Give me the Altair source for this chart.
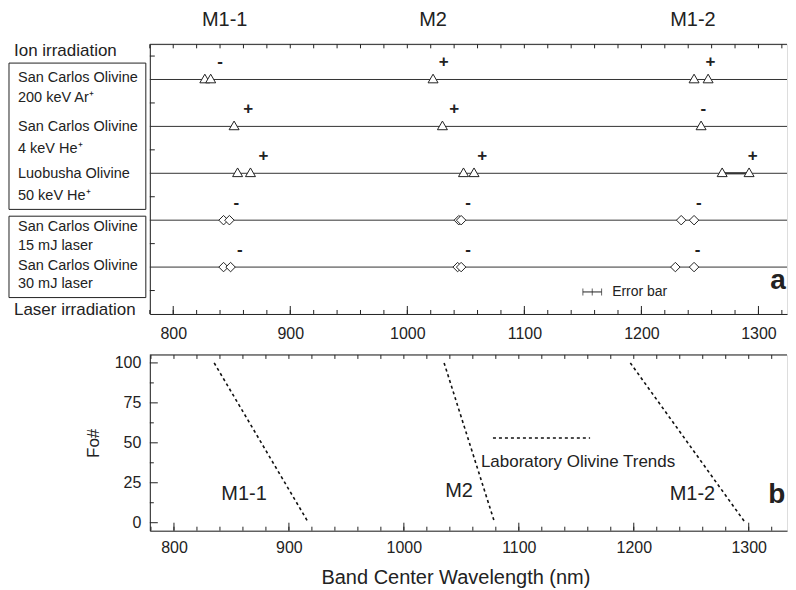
import altair as alt
import pandas as pd

# ---------------- data ----------------
# panel a : rows (1 = bottom row)
ROW_Y = [5, 4, 3, 2, 1]

# ion-irradiated samples (triangles): row, band centre (nm)
TRI_ROW = [5, 5, 5, 5, 5, 4, 4, 4, 3, 3, 3, 3, 3, 3]
TRI_NM = [827, 832, 1022, 1245, 1257, 852, 1030, 1251, 855, 866, 1048, 1057, 1269, 1292]

# laser-irradiated samples (diamonds)
DIA_ROW = [2, 2, 2, 2, 2, 2, 1, 1, 1, 1, 1, 1]
DIA_NM = [843, 848, 1044, 1046, 1234, 1245, 843, 849, 1043, 1046, 1229, 1245]

# shift direction signs
SIGN_ROW = [5, 5, 5, 4, 4, 4, 3, 3, 3, 2, 2, 2, 1, 1, 1]
SIGN_NM = [840, 1031, 1259, 864, 1040, 1253, 877, 1064, 1295, 854, 1052, 1249, 857, 1052, 1248]
SIGN_TXT = ["-", "+", "+", "+", "+", "-", "+", "+", "+", "-", "-", "-", "-", "-", "-"]

# highlighted segment between two Luobusha M1-2 centres
SEG_ROW = [3]
SEG_NM1 = [1269]
SEG_NM2 = [1292]

BAND_TITLES = ["M1-1", "M2", "M1-2"]
BAND_TITLE_NM = [844, 1022, 1244]

BOX_LABELS = ["San Carlos Olivine", "200 keV Ar⁺", "San Carlos Olivine", "4 keV He⁺",
              "Luobusha Olivine", "50 keV He⁺", "San Carlos Olivine", "15 mJ laser",
              "San Carlos Olivine", "30 mJ laser"]

# panel b : laboratory olivine trends (Fo# vs band centre)
TREND_NAMES = ["M1-1", "M2", "M1-2"]
TREND_FO = [100, 0]
TREND_NM_AT_FO100 = [835, 1035, 1197]
TREND_NM_AT_FO0 = [917, 1079, 1297]

X_LABELS = [800, 900, 1000, 1100, 1200, 1300]
FO_LABELS = [0, 25, 50, 75, 100]

# ---------------- layout constants ----------------
W = 638
H1, H2 = 270, 176
X1_DOM = [780, 1324.4]
Y1_DOM = [0, 5.75]
X2_DOM = [779, 1333.3]
Y2_DOM = [-5, 105]
FONT = "Liberation Sans"
INK = "#222222"

# annotation positions (data units of each panel)
BOX_LABEL_Y = [5.03, 4.60, 3.98, 3.52, 2.98, 2.51, 1.85, 1.45, 1.02, 0.63]

ax_x1 = alt.Axis(values=X_LABELS, format="d", ticks=False, grid=False, title=None, labelPadding=12,
                 labelFontSize=16, labelFont=FONT, labelColor=INK, domainColor=INK)
ax_y1 = alt.Axis(labels=False, ticks=False, grid=False, title=None, domainColor=INK)


def X1(field="nm"):
    return alt.X(f"{field}:Q", scale=alt.Scale(domain=X1_DOM, nice=False, zero=False), axis=ax_x1)


def Y1(field="y"):
    return alt.Y(f"{field}:Q", scale=alt.Scale(domain=Y1_DOM, nice=False, zero=False), axis=ax_y1)


ax_x2 = alt.Axis(values=X_LABELS, format="d", ticks=False, grid=False, title="Band Center Wavelength (nm)",
                 labelPadding=9, labelFontSize=16, labelFont=FONT, labelColor=INK, domainColor=INK,
                 titleFont=FONT, titleFontSize=20, titleFontWeight="normal", titleColor=INK,
                 titleX=306, titleY=53, titleBaseline="alphabetic")
ax_y2 = alt.Axis(values=FO_LABELS, format="d", ticks=False, grid=False, title="Fo#", labelPadding=9,
                 labelFontSize=16, labelFont=FONT, labelColor=INK, domainColor=INK,
                 titleFont=FONT, titleFontSize=17, titleFontWeight="normal", titleColor=INK,
                 titlePadding=12)


def X2(field="nm"):
    return alt.X(f"{field}:Q", scale=alt.Scale(domain=X2_DOM, nice=False, zero=False), axis=ax_x2)


def Y2(field="fo"):
    return alt.Y(f"{field}:Q", scale=alt.Scale(domain=Y2_DOM, nice=False, zero=False), axis=ax_y2)


one = pd.DataFrame({"k": [0]})
major = pd.DataFrame({"nm": X_LABELS})
minor1 = pd.DataFrame({"nm": [v for v in range(780, 1325, 20)]})
minor2 = pd.DataFrame({"nm": [v for v in range(780, 1334, 20)]})

# ---------------- panel a ----------------
rows = pd.DataFrame({"y": ROW_Y})
tri = pd.DataFrame({"nm": TRI_NM, "y": TRI_ROW})
dia = pd.DataFrame({"nm": DIA_NM, "y": DIA_ROW})
signs = pd.DataFrame({"nm": SIGN_NM, "y": [r + 0.37 for r in SIGN_ROW], "t": SIGN_TXT})
seg = pd.DataFrame({"nm": SEG_NM1, "nm2": SEG_NM2, "y": SEG_ROW})
heads = pd.DataFrame({"nm": BAND_TITLE_NM, "y": [6.27] * 3, "t": BAND_TITLES})
boxlab = pd.DataFrame({"y": BOX_LABEL_Y, "t": BOX_LABELS})
boxes = pd.DataFrame({"y": [5.35, 2.085], "y2": [2.23, 0.35]})
side = pd.DataFrame({"y": [5.6, 0.085], "t": ["Ion irradiation", "Laser irradiation"]})
ytick1 = pd.DataFrame({"y": [0.5, 1.5, 2.5, 3.5, 4.5, 5.5]})
errbar = pd.DataFrame({"nm": [1150], "nm2": [1166], "y": [0.47]})
errticks = pd.DataFrame({"nm": [1150, 1158, 1166], "y": [0.47] * 3})
errtxt = pd.DataFrame({"nm": [1175], "y": [0.47], "t": ["Error bar"]})
alab = pd.DataFrame({"nm": [1310], "y": [0.53], "t": ["a"]})

row_lines = alt.Chart(rows).mark_rule(color="#333333", strokeWidth=1).encode(
    y=Y1(), x=alt.value(0), x2=alt.value(W))
seg_line = alt.Chart(seg).mark_rule(color="#333333", strokeWidth=2.2).encode(
    x=X1(), x2="nm2:Q", y=Y1())
tri_pts = alt.Chart(tri).mark_point(shape="triangle-up", size=100, filled=True, fill="white",
                                    stroke=INK, strokeWidth=1, opacity=1, yOffset=-1).encode(
    x=X1(), y=Y1())
dia_pts = alt.Chart(dia).mark_point(shape="diamond", size=90, filled=True, fill="white",
                                    stroke=INK, strokeWidth=1, opacity=1).encode(
    x=X1(), y=Y1())
sign_txt = alt.Chart(signs).mark_text(font=FONT, fontSize=17, fontWeight="bold", color=INK,
                                      baseline="middle").encode(
    x=X1(), y=Y1(), text="t:N")
head_txt = alt.Chart(heads).mark_text(font=FONT, fontSize=20, color=INK, baseline="middle").encode(
    x=X1(), y=Y1(), text="t:N")
box_rects = alt.Chart(boxes).mark_rect(fillOpacity=0, stroke=INK, strokeWidth=1).encode(
    x=alt.value(-141), x2=alt.value(-4), y=Y1(), y2="y2:Q")
box_txt = alt.Chart(boxlab).mark_text(font=FONT, fontSize=14.5, color=INK, align="left",
                                      baseline="middle").encode(
    x=alt.value(-132), y=Y1(), text="t:N")
side_txt = alt.Chart(side).mark_text(font=FONT, fontSize=17, color=INK, align="left",
                                     baseline="middle").encode(
    x=alt.value(-136), y=Y1(), text="t:N")
top_frame = alt.Chart(one).mark_rule(color=INK, strokeWidth=1).encode(
    x=alt.value(0), x2=alt.value(W), y=alt.value(0))
bt_major1 = alt.Chart(major).mark_rule(color=INK).encode(
    x=X1(), y=alt.value(H1), y2=alt.value(H1 - 8))
bt_minor1 = alt.Chart(minor1).mark_rule(color=INK).encode(
    x=X1(), y=alt.value(H1), y2=alt.value(H1 - 4))
tp_minor1 = alt.Chart(minor1).mark_rule(color=INK).encode(
    x=X1(), y=alt.value(0), y2=alt.value(4))
lt_ticks1 = alt.Chart(ytick1).mark_rule(color=INK).encode(
    y=Y1(), x=alt.value(0), x2=alt.value(5))
err_line = alt.Chart(errbar).mark_rule(color=INK).encode(x=X1(), x2="nm2:Q", y=Y1())
err_tk = alt.Chart(errticks).mark_tick(orient="vertical", size=7, thickness=1, color=INK).encode(
    x=X1(), y=Y1())
err_label = alt.Chart(errtxt).mark_text(font=FONT, fontSize=14, color=INK, align="left",
                                        baseline="middle").encode(x=X1(), y=Y1(), text="t:N")
a_label = alt.Chart(alab).mark_text(font=FONT, fontSize=28, fontWeight="bold", color=INK,
                                    align="left", baseline="alphabetic").encode(
    x=X1(), y=Y1(), text="t:N")

panel_a = alt.layer(
    row_lines, seg_line, top_frame, bt_major1, bt_minor1, tp_minor1, lt_ticks1,
    box_rects, box_txt, side_txt, head_txt, sign_txt, tri_pts, dia_pts,
    err_line, err_tk, err_label, a_label
).properties(width=W, height=H1)

# ---------------- panel b ----------------
trend_rows = []
for n, a, b in zip(TREND_NAMES, TREND_NM_AT_FO100, TREND_NM_AT_FO0):
    trend_rows.append({"name": n, "nm": a, "fo": TREND_FO[0]})
    trend_rows.append({"name": n, "nm": b, "fo": TREND_FO[1]})
trends = pd.DataFrame(trend_rows)
trend_lab = pd.DataFrame({"nm": [861, 1048, 1251], "fo": [18, 20, 18], "t": TREND_NAMES})
leg_line = pd.DataFrame({"nm": [1077.5], "nm2": [1162], "fo": [53]})
leg_txt = pd.DataFrame({"nm": [1067], "fo": [38], "t": ["Laboratory Olivine Trends"]})
blab = pd.DataFrame({"nm": [1317], "fo": [12.5], "t": ["b"]})
ymaj2 = pd.DataFrame({"fo": FO_LABELS})
ymin2 = pd.DataFrame({"fo": [12.5, 37.5, 62.5, 87.5]})

trend_lines = alt.Chart(trends).mark_line(color="#111111", strokeWidth=1.6, strokeDash=[3, 3]).encode(
    x=X2(), y=Y2(), detail="name:N")
trend_txt = alt.Chart(trend_lab).mark_text(font=FONT, fontSize=20, color=INK, baseline="middle").encode(
    x=X2(), y=Y2(), text="t:N")
leg_rule = alt.Chart(leg_line).mark_rule(color="#111111", strokeWidth=1.6, strokeDash=[3, 3]).encode(
    x=X2(), x2="nm2:Q", y=Y2())
leg_label = alt.Chart(leg_txt).mark_text(font=FONT, fontSize=17, color=INK, align="left",
                                         baseline="middle").encode(x=X2(), y=Y2(), text="t:N")
b_label = alt.Chart(blab).mark_text(font=FONT, fontSize=28, fontWeight="bold", color=INK,
                                    align="left", baseline="alphabetic").encode(
    x=X2(), y=Y2(), text="t:N")
top_frame2 = alt.Chart(one).mark_rule(color=INK, strokeWidth=1).encode(
    x=alt.value(0), x2=alt.value(W), y=alt.value(0))
bt_major2 = alt.Chart(major).mark_rule(color=INK).encode(
    x=X2(), y=alt.value(H2), y2=alt.value(H2 - 8))
bt_minor2 = alt.Chart(minor2).mark_rule(color=INK).encode(
    x=X2(), y=alt.value(H2), y2=alt.value(H2 - 4))
tp_minor2 = alt.Chart(minor2).mark_rule(color=INK).encode(
    x=X2(), y=alt.value(0), y2=alt.value(4))
lt_major2 = alt.Chart(ymaj2).mark_rule(color=INK).encode(
    y=Y2(), x=alt.value(0), x2=alt.value(8))
lt_minor2 = alt.Chart(ymin2).mark_rule(color=INK).encode(
    y=Y2(), x=alt.value(0), x2=alt.value(4))

panel_b = alt.layer(
    top_frame2, bt_major2, bt_minor2, tp_minor2, lt_major2, lt_minor2,
    trend_lines, leg_rule, trend_txt, leg_label, b_label
).properties(width=W, height=H2)

chart = alt.vconcat(panel_a, panel_b, spacing=41, bounds="flush").properties(
    padding={"left": 0, "top": 1, "right": 0, "bottom": 0}
).configure_view(stroke=None).configure(background="white")

chart.save("out.html", embed_options={"renderer": "svg", "actions": False})
